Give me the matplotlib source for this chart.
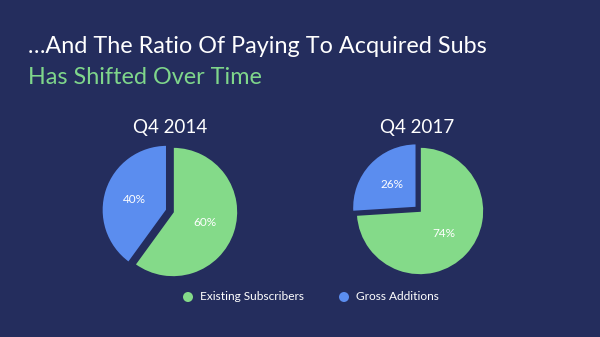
import matplotlib
matplotlib.use("Agg")
import matplotlib.pyplot as plt
from matplotlib.patches import Circle

plt.rcParams["font.family"] = ["Lato", "DejaVu Sans"]

# Data
series_names = ["Existing Subscribers", "Gross Additions"]
periods = ["Q4 2014", "Q4 2017"]
shares_2014 = [60, 40]
shares_2017 = [74, 26]

title_line1 = "\u2026And The Ratio Of Paying To Acquired Subs"
title_line2 = "Has Shifted Over Time"

BG = "#242d5d"
GREEN = "#84da89"
BLUE = "#5b8def"
TITLE_GREEN = "#7fd68b"

W, H = 600, 337
fig = plt.figure(figsize=(W / 100, H / 100), dpi=100, facecolor=BG)
ax = fig.add_axes([0, 0, 1, 1])
ax.set_facecolor(BG)


def py(y):
    # convert top-down pixel position to data y
    return H - y


# explode offsets are in data units (pixels here)
pies = [
    (shares_2014, (173, py(212)), 65, [0, 6.5]),
    (shares_2017, (420, py(211)), 64, [0, 5.0]),
]

for (vals, center, r, expl), label in zip(pies, periods):
    wedges, texts, autotexts = ax.pie(
        vals,
        colors=[GREEN, BLUE],
        startangle=90,
        counterclock=False,
        explode=expl,
        center=center,
        radius=r,
        autopct="%d%%",
        pctdistance=0.52,
        wedgeprops=dict(edgecolor=BG, linewidth=1.2),
        textprops=dict(color="white", fontsize=8.5),
    )
    ax.text(center[0] - 3, py(128), label, color="white", fontsize=13.5,
            ha="center", va="center")

ax.set_xlim(0, W)
ax.set_ylim(0, H)
ax.set_aspect("equal")
ax.axis("off")

# Headline
ax.text(28, py(53), title_line1, color="white", fontsize=16.8, ha="left",
        va="baseline")
ax.text(28, py(84), title_line2, color=TITLE_GREEN, fontsize=16.8, ha="left",
        va="baseline")

# Legend
legend_items = [(188, GREEN), (344, BLUE)]
for (cx, col), name in zip(legend_items, series_names):
    ax.add_patch(Circle((cx, py(297)), 5, color=col, lw=0))
    ax.text(cx + 12, py(297), name, color="white", fontsize=8.6, ha="left",
            va="center")

fig.savefig("out.png", dpi=100, facecolor=BG)
